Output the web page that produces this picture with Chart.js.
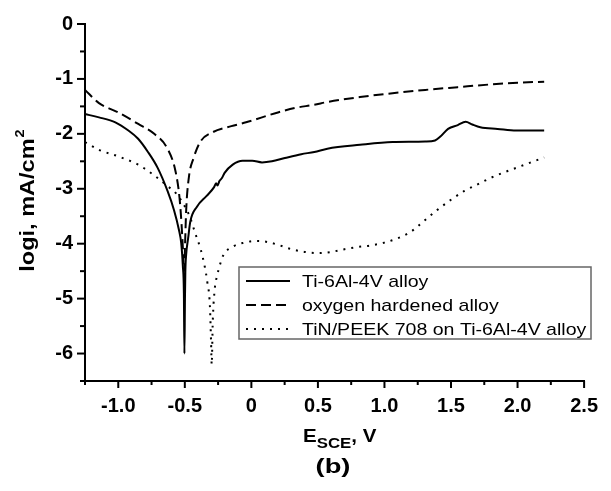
<!DOCTYPE html>
<html>
<head>
<meta charset="utf-8">
<script src="https://cdn.jsdelivr.net/npm/chart.js@4/dist/chart.umd.min.js"></script>
<style>
  html, body { margin: 0; background: #fff; }
  #wrap { width: 611px; height: 491px; }
</style>
</head>
<body>
<div id="wrap"><canvas id="canvas"></canvas></div>
<script>
// polarisation curves, values
const tiE = [-1.25, -1.145, -1.022, -0.924, -0.851, -0.777, -0.704, -0.63, -0.581, -0.544, -0.527, -0.515, -0.507, -0.503, -0.499, -0.496, -0.49, -0.475, -0.459, -0.41, -0.336, -0.28, -0.265, -0.255, -0.24, -0.22, -0.201, -0.14, -0.066, 0.007, 0.08, 0.154, 0.252, 0.375, 0.473, 0.571, 0.816, 1.061, 1.306, 1.38, 1.42, 1.478, 1.551, 1.61, 1.66, 1.72, 1.85, 1.99, 2.2];
const tiLog = [-1.64, -1.70, -1.79, -1.94, -2.09, -2.33, -2.62, -3.04, -3.39, -3.75, -3.99, -4.4, -4.9, -6.0, -5.0, -4.5, -4.2, -3.9, -3.6, -3.33, -3.13, -2.97, -2.90, -2.94, -2.86, -2.80, -2.71, -2.56, -2.49, -2.49, -2.52, -2.50, -2.44, -2.37, -2.33, -2.27, -2.20, -2.15, -2.14, -2.12, -2.05, -1.91, -1.84, -1.78, -1.83, -1.88, -1.91, -1.94, -1.94];

const oxE = [-1.25, -1.145, -1.0, -0.85, -0.73, -0.63, -0.57, -0.54, -0.525, -0.512, -0.505, -0.498, -0.49, -0.47, -0.434, -0.385, -0.29, -0.15, -0.04, 0.2, 0.326, 0.473, 0.571, 0.816, 1.061, 1.306, 1.55, 1.8, 2.0, 2.2];
const oxLog = [-1.20, -1.44, -1.61, -1.82, -2.0, -2.27, -2.68, -3.16, -3.63, -4.2, -4.5, -4.0, -3.4, -2.80, -2.44, -2.15, -1.97, -1.86, -1.79, -1.61, -1.53, -1.47, -1.42, -1.33, -1.26, -1.20, -1.15, -1.10, -1.07, -1.05];

const tinE = [-1.25, -1.145, -1.0, -0.851, -0.728, -0.63, -0.56, -0.51, -0.462, -0.422, -0.38, -0.35, -0.331, -0.312, -0.303, -0.298, -0.29, -0.275, -0.257, -0.238, -0.213, -0.128, -0.05, 0.03, 0.1, 0.2, 0.3, 0.4, 0.5, 0.6, 0.7, 0.8, 0.9, 1.0, 1.1, 1.2, 1.3, 1.4, 1.5, 1.6, 1.7, 1.8, 1.9, 2.0, 2.1, 2.2];
const tinLog = [-2.15, -2.29, -2.41, -2.56, -2.76, -2.95, -3.10, -3.28, -3.51, -3.81, -4.11, -4.42, -4.70, -5.11, -5.77, -6.2, -5.41, -4.82, -4.58, -4.40, -4.22, -4.04, -3.98, -3.95, -3.96, -4.02, -4.10, -4.15, -4.17, -4.15, -4.10, -4.06, -4.03, -3.98, -3.90, -3.78, -3.58, -3.38, -3.20, -3.04, -2.92, -2.80, -2.70, -2.61, -2.52, -2.43];

const seriesNames = ["Ti-6Al-4V alloy", "oxygen hardened alloy", "TiN/PEEK 708 on Ti-6Al-4V alloy"];
const xLabels = ["-1.0", "-0.5", "0", "0.5", "1.0", "1.5", "2.0", "2.5"];
const yLabels = ["0", "-1", "-2", "-3", "-4", "-5", "-6"];

const toPoints = (xs, ys) => xs.map((x, i) => ({ x: x, y: ys[i] }));

// draw text stretched along its own direction
function wideText(ctx, txt, x, y, sx) {
  ctx.save();
  ctx.translate(x, y);
  ctx.scale(sx, 1);
  ctx.fillText(txt, 0, 0);
  ctx.restore();
  return ctx.measureText(txt).width * sx;
}

const decor = {
  id: "decor",
  afterDraw(chart) {
    const ctx = chart.ctx;
    const xs = chart.scales.x;
    const ys = chart.scales.y;
    const area = chart.chartArea;
    ctx.save();
    ctx.strokeStyle = "#000";
    ctx.lineWidth = 2;
    ctx.lineCap = "butt";

    // tick marks, outward
    ys.ticks.forEach((t) => {
      const py = ys.getPixelForValue(t.value);
      const len = Number.isInteger(Math.round(t.value * 100) / 100) ? 8 : 5;
      ctx.beginPath();
      ctx.moveTo(area.left - len, py);
      ctx.lineTo(area.left, py);
      ctx.stroke();
    });
    xs.ticks.forEach((t) => {
      const px = xs.getPixelForValue(t.value);
      const major = Math.abs(t.value * 2 - Math.round(t.value * 2)) < 1e-6;
      const len = major ? 7 : 4;
      ctx.beginPath();
      ctx.moveTo(px, area.bottom);
      ctx.lineTo(px, area.bottom + len);
      ctx.stroke();
    });

    // legend box
    const lx = 239, ly = 267, lw = 352, lh = 72;
    ctx.lineWidth = 1.5;
    ctx.strokeStyle = "#666";
    ctx.strokeRect(lx, ly, lw, lh);
    ctx.font = "17px 'Liberation Sans', Arial, sans-serif";
    ctx.fillStyle = "#000";
    ctx.textBaseline = "middle";
    ctx.textAlign = "left";
    chart.data.datasets.forEach((ds, i) => {
      const ry = ly + 14 + i * 24;
      ctx.save();
      ctx.strokeStyle = ds.borderColor;
      ctx.lineWidth = ds.borderWidth;
      ctx.setLineDash(ds.borderDash || []);
      ctx.beginPath();
      ctx.moveTo(lx + 7, ry);
      ctx.lineTo(lx + 51, ry);
      ctx.stroke();
      ctx.restore();
      wideText(ctx, ds.label, lx + 63, ry + 1, 1.15);
    });

    // y axis title, rotated, with superscript
    ctx.save();
    ctx.translate(34, 201);
    ctx.rotate(-Math.PI / 2);
    ctx.textBaseline = "alphabetic";
    ctx.font = "bold 21px 'Liberation Sans', Arial, sans-serif";
    const main = "logi, mA/cm";
    const w1 = ctx.measureText(main).width * 1.12;
    ctx.font = "bold 13px 'Liberation Sans', Arial, sans-serif";
    const w2 = ctx.measureText("2").width * 1.12;
    const start = -(w1 + w2) / 2;
    ctx.font = "bold 21px 'Liberation Sans', Arial, sans-serif";
    wideText(ctx, main, start, 0, 1.12);
    ctx.font = "bold 13px 'Liberation Sans', Arial, sans-serif";
    wideText(ctx, "2", start + w1 + 1, -10, 1.12);
    ctx.restore();

    // x axis title E_SCE, V
    ctx.textBaseline = "alphabetic";
    let x = 303;
    ctx.font = "bold 19px 'Liberation Sans', Arial, sans-serif";
    x += wideText(ctx, "E", x, 442, 1.08);
    ctx.font = "bold 14px 'Liberation Sans', Arial, sans-serif";
    x += wideText(ctx, "SCE", x, 448, 1.2);
    ctx.font = "bold 19px 'Liberation Sans', Arial, sans-serif";
    wideText(ctx, ", V", x, 442, 1.08);

    // panel letter
    ctx.font = "bold 21px 'Liberation Sans', Arial, sans-serif";
    ctx.textAlign = "center";
    wideText(ctx, "(b)", 333, 473, 1.3);
    ctx.restore();
  },
};

const tickFont = { family: "'Liberation Sans', Arial, sans-serif", size: 20, weight: "bold" };

const chartContainer = document.getElementById("canvas").getContext("2d");
const polChart = new Chart(chartContainer, {
  type: "line",
  data: {
    datasets: [
      {
        label: seriesNames[0],
        data: toPoints(tiE, tiLog),
        borderColor: "#000",
        borderWidth: 2,
        pointRadius: 0,
        cubicInterpolationMode: "monotone",
      },
      {
        label: seriesNames[1],
        data: toPoints(oxE, oxLog),
        borderColor: "#000",
        borderWidth: 2,
        borderDash: [10, 5],
        pointRadius: 0,
        cubicInterpolationMode: "monotone",
      },
      {
        label: seriesNames[2],
        data: toPoints(tinE, tinLog),
        borderColor: "#000",
        borderWidth: 2,
        borderDash: [2, 6],
        pointRadius: 0,
        cubicInterpolationMode: "monotone",
      },
    ],
  },
  options: {
    responsive: true,
    maintainAspectRatio: false,
    animation: false,
    devicePixelRatio: 1,
    layout: { padding: { top: 16, right: 15, left: 0, bottom: 0 } },
    plugins: { legend: { display: false }, tooltip: { enabled: false } },
    scales: {
      x: {
        type: "linear",
        min: -1.25,
        max: 2.5,
        grid: { display: false, drawTicks: false },
        border: { display: true, color: "#000", width: 2 },
        ticks: {
          stepSize: 0.25,
          autoSkip: false,
          maxRotation: 0,
          padding: 13,
          color: "#000",
          font: tickFont,
          callback: (v) => {
            const idx = Math.round((v + 1) * 2);
            return Math.abs(v * 2 - Math.round(v * 2)) < 1e-6 && xLabels[idx] !== undefined ? xLabels[idx] : "";
          },
        },
        afterFit: (scale) => { scale.height = 110; },
      },
      y: {
        min: -6.5,
        max: 0,
        grid: { display: false, drawTicks: false },
        border: { display: true, color: "#000", width: 2 },
        ticks: {
          stepSize: 0.5,
          autoSkip: false,
          padding: 12,
          color: "#000",
          font: tickFont,
          callback: (v) => (Number.isInteger(v) ? yLabels[-v] : ""),
        },
        afterFit: (scale) => { scale.width = 85; },
      },
    },
  },
  plugins: [decor],
});
</script>
</body>
</html>
